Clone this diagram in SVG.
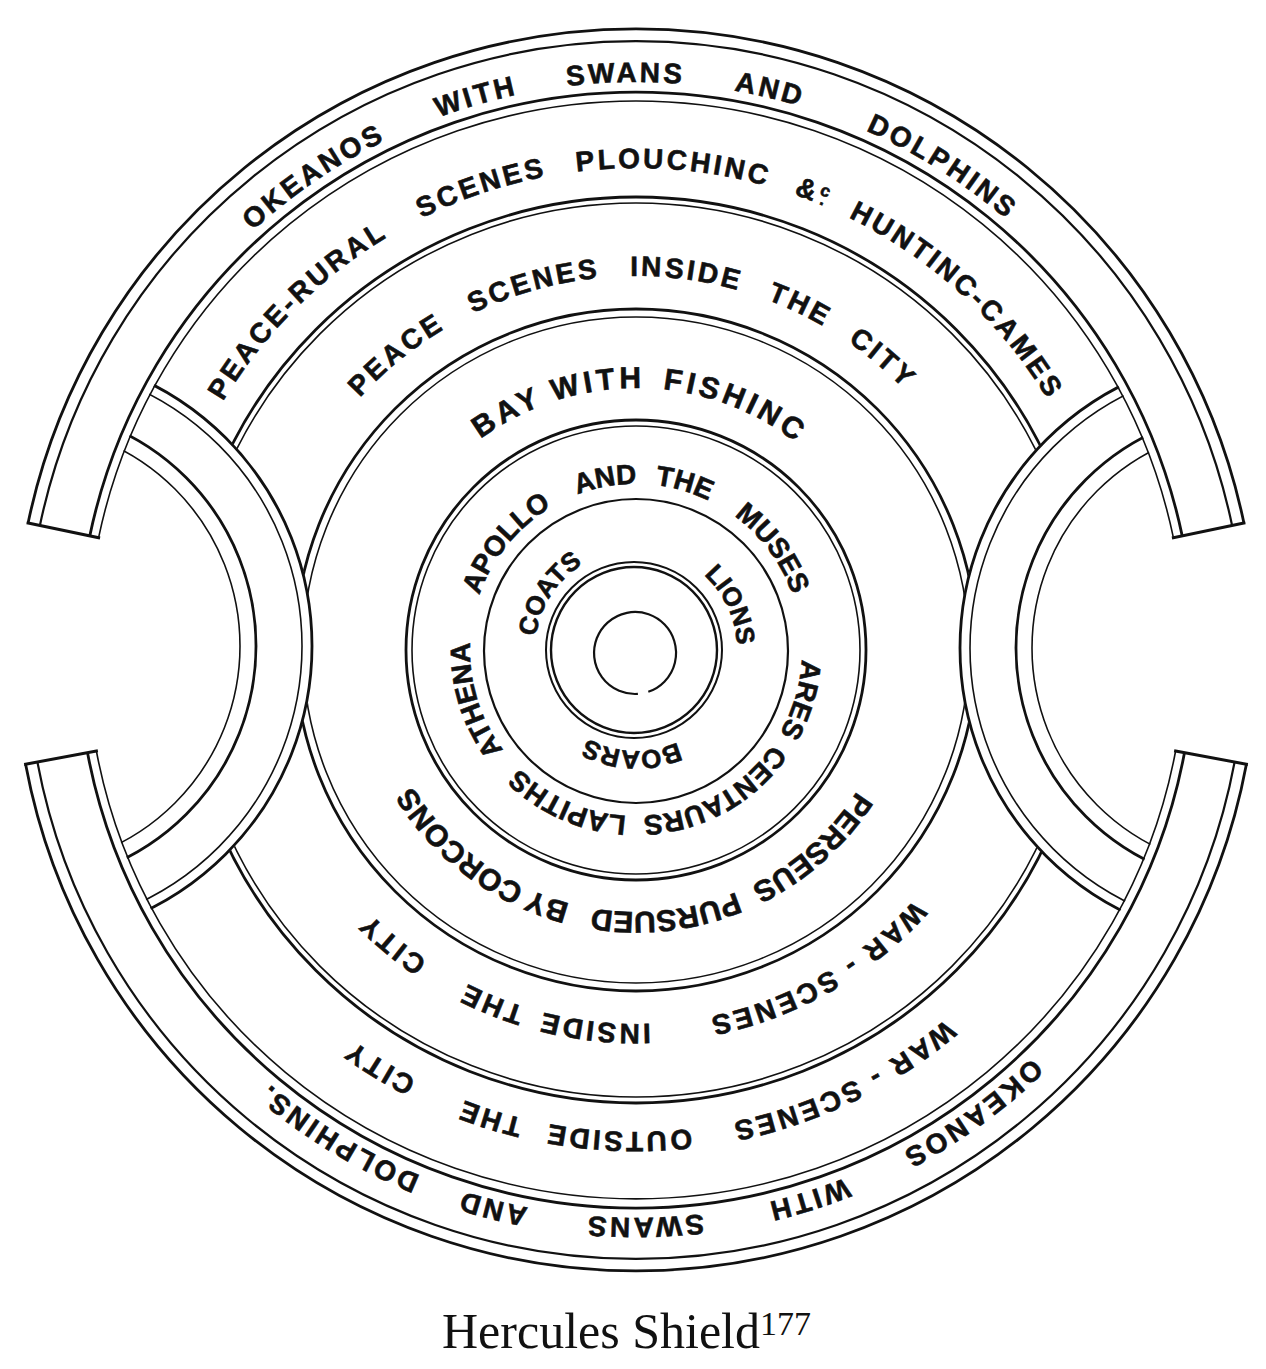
<svg xmlns="http://www.w3.org/2000/svg" width="1266" height="1369" viewBox="0 0 1266 1369">
<style>
.k{fill:none;stroke:#111;stroke-width:2.8}
.f{fill:none;stroke:#111;stroke-width:1.6}
.cap{fill:none;stroke:#111;stroke-width:3;stroke-linecap:square}
.lb{font-family:"Liberation Sans",Arial,Helvetica,sans-serif;font-weight:bold;fill:#111;stroke:#111;stroke-width:0.6;text-anchor:middle}
.o{font-size:28px;letter-spacing:3px}
.b{font-size:30px;letter-spacing:4px}
.bb{font-size:30px;letter-spacing:0px}
.a{font-size:28px;letter-spacing:0px}
.c{font-size:26px;letter-spacing:0px}
.cap-t{font-family:"Liberation Serif","Times New Roman",serif;font-size:50px;fill:#111}
</style>
<defs>
<path id="p568" d="M1204 650 A568 568 0 1 1 68 650 A568 568 0 1 1 1204 650 A568 568 0 1 1 68 650 A568 568 0 1 1 1204 650"/>
<path id="p482" d="M1118 650 A482 482 0 1 1 154 650 A482 482 0 1 1 1118 650 A482 482 0 1 1 154 650 A482 482 0 1 1 1118 650"/>
<path id="p374" d="M1010 650 A374 374 0 1 1 262 650 A374 374 0 1 1 1010 650 A374 374 0 1 1 262 650 A374 374 0 1 1 1010 650"/>
<path id="p262" d="M898 650 A262 262 0 1 1 374 650 A262 262 0 1 1 898 650 A262 262 0 1 1 374 650 A262 262 0 1 1 898 650"/>
<path id="p166" d="M802 650 A166 166 0 1 1 470 650 A166 166 0 1 1 802 650 A166 166 0 1 1 470 650 A166 166 0 1 1 802 650"/>
<path id="p101" d="M737 650 A101 101 0 1 1 535 650 A101 101 0 1 1 737 650 A101 101 0 1 1 535 650 A101 101 0 1 1 737 650"/>
<clipPath id="inside"><circle cx="636" cy="650" r="550"/></clipPath>
</defs>
<rect width="1266" height="1369" fill="#fff"/>

<g id="rings">
<circle class="k" cx="636" cy="650" r="453"/>
<circle class="f" cx="636" cy="650" r="447"/>
<circle class="k" cx="636" cy="650" r="341"/>
<circle class="f" cx="636" cy="650" r="333"/>
<circle class="k" cx="636" cy="650" r="230"/>
<circle class="f" cx="636" cy="650" r="224"/>
<circle class="k" cx="636" cy="651" r="152" style="stroke-width:2.2"/>
<circle class="f" cx="634" cy="650" r="88" style="stroke-width:2"/>
<circle class="k" cx="634" cy="650" r="83" style="stroke-width:2.4"/>
<path class="k" d="M637.9 693.9 A41 41 0 1 1 648.3 691.8" style="stroke-width:2.2"/>
</g>

<g id="side-panels" clip-path="url(#inside)">
<g id="left-panel">
<circle cx="18" cy="646" r="295" fill="#fff"/>
<circle class="k" cx="18" cy="646" r="294"/>
<circle class="f" cx="18" cy="646" r="284"/>
<circle class="k" cx="18" cy="646" r="238"/>
<circle class="f" cx="18" cy="646" r="222"/>
</g>
<g id="right-panel">
<circle cx="1254" cy="648" r="295" fill="#fff"/>
<circle class="k" cx="1254" cy="648" r="294"/>
<circle class="f" cx="1254" cy="648" r="284"/>
<circle class="k" cx="1254" cy="648" r="238"/>
<circle class="f" cx="1254" cy="648" r="222"/>
</g>
</g>

<g id="okeanos-band">
<path class="k" d="M28.1 523 A621 621 0 0 1 1243.9 523"/>
<path class="k" d="M39.9 525.5 A609 609 0 0 1 1232.1 525.5" style="stroke-width:2.2"/>
<path class="k" d="M89.8 535.9 A558 558 0 0 1 1182.2 535.9"/>
<path class="f" d="M98.6 537.7 A549 549 0 0 1 1173.4 537.7"/>
<path class="k" d="M1246.4 764.2 A621 621 0 0 1 25.6 764.2"/>
<path class="k" d="M1234.6 762 A609 609 0 0 1 37.4 762" style="stroke-width:2.2"/>
<path class="k" d="M1184.5 752.6 A558 558 0 0 1 87.5 752.6"/>
<path class="f" d="M1175.6 751 A549 549 0 0 1 96.4 751"/>
<path class="cap" d="M98.6 537.7 L28.1 523 M1173.4 537.7 L1243.9 523 M1175.6 751 L1246.4 764.2 M96.4 751 L25.6 764.2"/>
</g>

<g id="label-okeanos" class="lb o">
<text><textPath href="#p568" startOffset="5905.5">OKEANOS</textPath></text>
<text><textPath href="#p568" startOffset="6084.9">WITH</textPath></text>
<text><textPath href="#p568" startOffset="6234.6">SWANS</textPath></text>
<text><textPath href="#p568" startOffset="6378.3">AND</textPath></text>
<text><textPath href="#p568" startOffset="6565.7">DOLPHINS</textPath></text>
<text><textPath href="#p568" startOffset="4104.2">OKEANOS</textPath></text>
<text><textPath href="#p568" startOffset="4287.6">WITH</textPath></text>
<text><textPath href="#p568" startOffset="4452.2">SWANS</textPath></text>
<text><textPath href="#p568" startOffset="4603.8">AND</textPath></text>
<text><textPath href="#p568" startOffset="4771.4">DOLPHINS.</textPath></text>
</g>

<g id="label-peace-rural" class="lb o">
<text><textPath href="#p482" startOffset="4921.3">PEACE-RURAL</textPath></text>
<text><textPath href="#p482" startOffset="5143.4">SCENES</textPath></text>
<text><textPath href="#p482" startOffset="5336">PLOUCHINC</textPath></text>
<text><textPath href="#p482" startOffset="5477.4">&amp;<tspan font-size="17" dy="-9">c</tspan><tspan font-size="17" dy="9" dx="-9">.</tspan></textPath></text>
<text><textPath href="#p482" startOffset="5656.6">HUNTINC-CAMES</textPath></text>
</g>

<g id="label-war-outside" class="lb o">
<text><textPath href="#p482" startOffset="3569.4">WAR - SCENES</textPath></text>
<text><textPath href="#p482" startOffset="3802.5">OUTSIDE</textPath></text>
<text><textPath href="#p482" startOffset="3931.2">THE</textPath></text>
<text><textPath href="#p482" startOffset="4050.6">CITY</textPath></text>
</g>

<g id="label-peace-city" class="lb o">
<text><textPath href="#p374" startOffset="3855.8">PEACE</textPath></text>
<text><textPath href="#p374" startOffset="4008.5">SCENES</textPath></text>
<text><textPath href="#p374" startOffset="4160.6">INSIDE</textPath></text>
<text><textPath href="#p374" startOffset="4276.8">THE</textPath></text>
<text><textPath href="#p374" startOffset="4373.4">CITY</textPath></text>
</g>

<g id="label-war-inside" class="lb o">
<text><textPath href="#p374" startOffset="2743.5">WAR - SCENES</textPath></text>
<text><textPath href="#p374" startOffset="2977.2">INSIDE</textPath></text>
<text><textPath href="#p374" startOffset="3081.6">THE</textPath></text>
<text><textPath href="#p374" startOffset="3195.2">CITY</textPath></text>
</g>

<g id="label-bay" class="lb b">
<text><textPath href="#p262" startOffset="2749.6">BAY</textPath></text>
<text><textPath href="#p262" startOffset="2842.5">WITH</textPath></text>
<text><textPath href="#p262" startOffset="2980.6">FISHINC</textPath></text>
</g>

<g id="label-perseus" class="lb bb">
<text><textPath href="#p262" startOffset="1866.2">PERSEUS</textPath></text>
<text><textPath href="#p262" startOffset="2027.6">PURSUED</textPath></text>
<text><textPath href="#p262" startOffset="2144.6">BY</textPath></text>
<text><textPath href="#p262" startOffset="2248.6">CORCONS</textPath></text>
</g>

<g id="label-apollo" class="lb a">
<text><textPath href="#p166" startOffset="1678.4">APOLLO</textPath></text>
<text><textPath href="#p166" startOffset="1795.4">AND</textPath></text>
<text><textPath href="#p166" startOffset="1872.2">THE</textPath></text>
<text><textPath href="#p166" startOffset="1979.7">MUSES</textPath></text>
<text><textPath href="#p166" startOffset="1091.4">ARES</textPath></text>
<text><textPath href="#p166" startOffset="1219.8">CENTAURS</textPath></text>
<text><textPath href="#p166" startOffset="1373.2">LAPITHS</textPath></text>
<text><textPath href="#p166" startOffset="1514.4">ATHENA</textPath></text>
</g>

<g id="label-animals" class="lb c">
<text><textPath href="#p101" startOffset="1008.3">COATS</textPath></text>
<text><textPath href="#p101" startOffset="1222.5">LIONS</textPath></text>
<text><textPath href="#p101" startOffset="795.9">BOARS</textPath></text>
</g>

<g id="caption">
<text class="cap-t" x="442" y="1348">Hercules Shield<tspan font-size="34" dy="-13">177</tspan></text>
</g>
</svg>
